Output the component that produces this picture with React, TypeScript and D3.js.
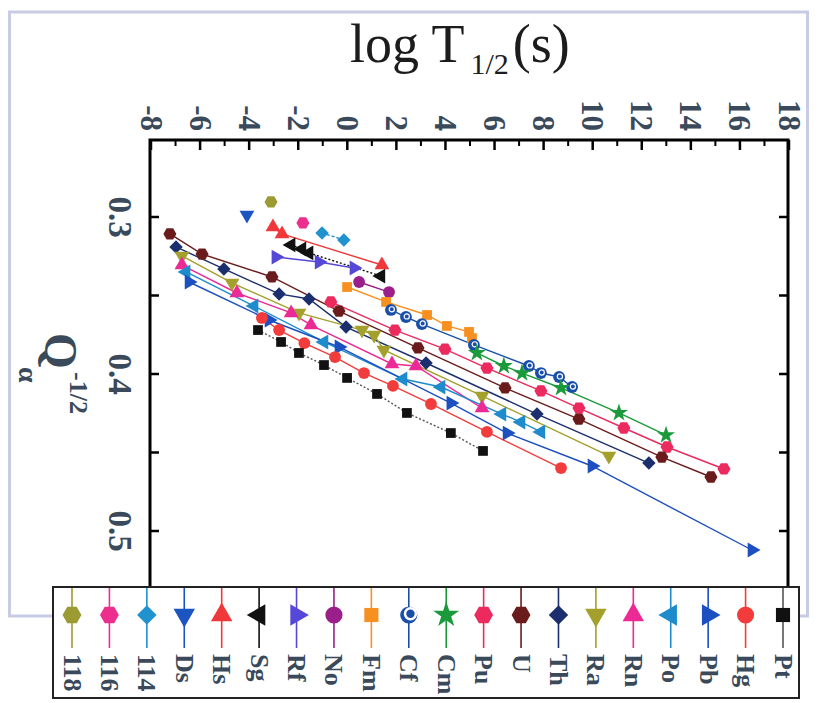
import React from "react";
import * as d3 from "d3";

const W = 832;
const H = 703;

// axis ticks
const xTicks = [-8, -6, -4, -2, 0, 2, 4, 6, 8, 10, 12, 14, 16, 18];
const xMinor = [-7, -5, -3, -1, 1, 3, 5, 7, 9, 11, 13, 15, 17];
const yTicks = [0.3, 0.4, 0.5];
const yMinor = [0.35, 0.45];

// [log T1/2 (s), Qa^-1/2]
const e118 = [[-3.11, 0.2904]];
const e116 = [[-1.81, 0.3038]];
const e114 = [[-1.03, 0.3102], [-0.14, 0.3146]];
const eDs = [[-4.09, 0.2987]];
const eHs = [[-3.03, 0.3064], [-2.66, 0.3108], [1.41, 0.3306]];
const eSg = [[-2.29, 0.3178], [-1.85, 0.3204], [-1.56, 0.3229], [1.37, 0.3376]];
const eRf = [[-2.91, 0.3255], [-1.15, 0.3287], [0.27, 0.3325]];
const eNo = [[0.48, 0.3414], [1.7, 0.3478]];
const eFm = [[-0.01, 0.3446], [1.58, 0.3541], [3.25, 0.3624], [4.06, 0.3694], [4.96, 0.3732], [5.08, 0.3771]];
const eCf = [[1.78, 0.3592], [2.39, 0.3637], [3.04, 0.3682], [5.16, 0.3815], [7.4, 0.3949], [7.89, 0.3994], [8.63, 0.4019], [9.16, 0.4083]];
const eCm = [[5.28, 0.3866], [6.38, 0.3949], [7.12, 0.3994], [8.71, 0.4089], [11.07, 0.4248], [12.99, 0.4389]];
const ePu = [[-0.67, 0.3541], [1.94, 0.372], [3.98, 0.3841], [5.69, 0.3962], [7.89, 0.4108], [9.44, 0.4217], [11.27, 0.4344], [13.03, 0.4465], [15.35, 0.4605]];
const eU = [[-7.23, 0.3108], [-5.92, 0.3236], [-3.07, 0.3382], [-0.34, 0.3599], [2.88, 0.3834], [6.43, 0.4089], [9.44, 0.4287], [12.82, 0.4529], [14.82, 0.4656]];
const eTh = [[-6.98, 0.3191], [-5.03, 0.3331], [-2.78, 0.349], [-1.56, 0.3522], [-0.05, 0.3701], [3.21, 0.393], [7.73, 0.4255], [12.29, 0.4567]];
const eRa = [[-6.74, 0.3248], [-4.7, 0.342], [-1.97, 0.3611], [0.6, 0.372], [1.09, 0.3752], [1.49, 0.3847], [5.49, 0.414], [10.66, 0.4522]];
const eRn = [[-6.74, 0.3306], [-4.5, 0.3484], [-2.29, 0.3611], [-1.48, 0.3688], [1.82, 0.3936], [2.8, 0.3949], [5.49, 0.4217]];
const ePo = [[-6.57, 0.335], [-3.8, 0.3567], [-0.95, 0.3796], [2.27, 0.4032], [3.82, 0.4083], [6.3, 0.4255], [7.08, 0.4306], [7.89, 0.4369]];
const ePb = [[-6.45, 0.3414], [-3.19, 0.3656], [-0.34, 0.3828], [4.22, 0.4185], [6.51, 0.4376], [9.97, 0.4586], [16.49, 0.5121]];
const eHg = [[-3.48, 0.3643], [-2.78, 0.372], [-1.75, 0.3803], [-0.5, 0.3892], [0.68, 0.3994], [1.86, 0.4076], [3.41, 0.4191], [5.69, 0.4369], [8.71, 0.4599]];
const ePt = [[-3.64, 0.372], [-2.7, 0.3796], [-1.97, 0.3866], [-0.95, 0.3943], [-0.01, 0.4025], [1.21, 0.4127], [2.43, 0.4248], [4.22, 0.4376], [5.53, 0.449]];

const series = [
  { name: "118", data: e118, color: "#9c9a32", shape: "hex" },
  { name: "116", data: e116, color: "#ec2f8f", shape: "hex" },
  { name: "114", data: e114, color: "#1f92cf", shape: "diamond", dash: "3,2" },
  { name: "Ds", data: eDs, color: "#1a55c0", shape: "tdown" },
  { name: "Hs", data: eHs, color: "#f0383a", shape: "tup" },
  { name: "Sg", data: eSg, color: "#111111", shape: "tleft", dash: "2,2" },
  { name: "Rf", data: eRf, color: "#5548d8", shape: "tright" },
  { name: "No", data: eNo, color: "#9a1f8a", shape: "circle" },
  { name: "Fm", data: eFm, color: "#f79020", shape: "square" },
  { name: "Cf", data: eCf, color: "#1a4fa8", shape: "sphere" },
  { name: "Cm", data: eCm, color: "#1a9a3a", shape: "star" },
  { name: "Pu", data: ePu, color: "#ec2a5e", shape: "hex" },
  { name: "U", data: eU, color: "#6a1c1c", shape: "hex" },
  { name: "Th", data: eTh, color: "#1b2f6e", shape: "diamond" },
  { name: "Ra", data: eRa, color: "#a3a02c", shape: "tdown" },
  { name: "Rn", data: eRn, color: "#ec2a95", shape: "tup" },
  { name: "Po", data: ePo, color: "#1e8ccc", shape: "tleft" },
  { name: "Pb", data: ePb, color: "#1c4fc0", shape: "tright" },
  { name: "Hg", data: eHg, color: "#f23c3c", shape: "circle" },
  { name: "Pt", data: ePt, color: "#111111", shape: "square", dash: "2,2", line: "#555" },
];

const hexagon = {
  draw(ctx: any, size: number) {
    const r = Math.sqrt((2 * size) / (3 * Math.sqrt(3)));
    for (let i = 0; i < 6; i++) {
      const a = (Math.PI / 3) * i;
      const px = r * Math.cos(a);
      const py = r * Math.sin(a);
      if (i === 0) ctx.moveTo(px, py);
      else ctx.lineTo(px, py);
    }
    ctx.closePath();
  },
};

function Marker({ shape, color, x, y, k }: any) {
  let type: any = d3.symbolCircle;
  let rot = 0;
  let size = 110 * k;
  if (shape === "hex") type = hexagon;
  if (shape === "square") { type = d3.symbolSquare; size = 95 * k; }
  if (shape === "diamond") { type = d3.symbolSquare; rot = 45; size = 90 * k; }
  if (shape === "star") { type = d3.symbolStar; size = 100 * k; }
  if (shape.startsWith("t")) {
    type = d3.symbolTriangle;
    size = 95 * k;
    rot = shape === "tdown" ? 180 : shape === "tleft" ? -90 : shape === "tright" ? 90 : 0;
  }
  const d = d3.symbol().type(type).size(size)() as string;
  return (
    <g transform={`translate(${x},${y}) rotate(${rot})`}>
      <path d={d} fill={color} />
      {shape === "sphere" && (
        <circle cx={0.8 * k} cy={-0.6 * k} r={2.6 * k} fill="none" stroke="#fff" strokeWidth={1.2 * k} />
      )}
    </g>
  );
}

const serif = "'Liberation Serif', 'Times New Roman', serif";
const ink = "#3a4a5a";

export default function App() {
  const left = 150;
  const right = 788;
  const top = 140;
  const bottom = 592;
  const x = d3.scaleLinear().domain([-8, 18]).range([151, 789]);
  const y = d3.scaleLinear().domain([0.3, 0.5]).range([217, 531]);
  const line = d3.line<number[]>().x((d) => x(d[0])).y((d) => y(d[1]));

  const lgX = d3.scalePoint<string>().domain(series.map((s) => s.name)).range([72, 783]);

  return (
    <svg width={W} height={H} style={{ position: "absolute", left: 0, top: 0, background: "#fff" }}>
      {/* scanned page edge */}
      <rect x={9.5} y={12} width={798} height={604} fill="#fff" stroke="#c8cbe4" strokeWidth={3} />

      {/* title */}
      <text x={350} y={62} fontFamily={serif} fontSize={54} fill="#1c1c1c">
        log T
        <tspan fontSize={30} dx={6} dy={12}>1/2</tspan>
        <tspan fontSize={54} dx={4} dy={-12}>(s)</tspan>
      </text>

      {/* frame */}
      <path
        d={`M${left},${bottom}V${top}H${right}V${bottom}`}
        fill="none"
        stroke="#000"
        strokeWidth={3}
      />
      {xTicks.map((t) => (
        <line key={"xt" + t} x1={x(t)} x2={x(t)} y1={top} y2={top + 10} stroke="#000" strokeWidth={2.5} />
      ))}
      {xMinor.map((t) => (
        <line key={"xm" + t} x1={x(t)} x2={x(t)} y1={top} y2={top + 6} stroke="#000" strokeWidth={2} />
      ))}
      {yTicks.concat(yMinor).map((t) => (
        <g key={"yt" + t}>
          <line x1={left} x2={left + 9} y1={y(t)} y2={y(t)} stroke="#000" strokeWidth={2.5} />
          <line x1={right} x2={right - 9} y1={y(t)} y2={y(t)} stroke="#000" strokeWidth={2.5} />
        </g>
      ))}

      {/* top tick labels, rotated like the scan */}
      {xTicks.map((t) => (
        <text
          key={"xl" + t}
          transform={`translate(${x(t)},131) rotate(90)`}
          textAnchor="end"
          dominantBaseline="central"
          fontFamily={serif}
          fontWeight="bold"
          fontSize={31}
          fill={ink}
        >
          {t}
        </text>
      ))}
      {yTicks.map((t) => (
        <text
          key={"yl" + t}
          transform={`translate(120,${y(t)}) rotate(90)`}
          textAnchor="middle"
          dominantBaseline="central"
          fontFamily={serif}
          fontWeight="bold"
          fontSize={33}
          fill={ink}
        >
          {t.toFixed(1)}
        </text>
      ))}

      {/* y title */}
      <text transform="translate(45,333) rotate(90)" fontFamily={serif} fontWeight="bold" fontSize={46} fill={ink}>Q</text>
      <text transform="translate(19,367) rotate(90)" fontFamily={serif} fontWeight="bold" fontSize={28} fill={ink}>α</text>
      <text transform="translate(70,372) rotate(90)" fontFamily={serif} fontWeight="bold" fontSize={26} fill={ink}>-1/2</text>

      {/* series */}
      {series.map((s) => (
        <path
          key={"l" + s.name}
          d={line(s.data) as string}
          fill="none"
          stroke={s.line || s.color}
          strokeWidth={1.4}
          strokeDasharray={s.dash}
        />
      ))}
      {series.map((s) =>
        s.data.map((d, i) => (
          <Marker key={s.name + i} shape={s.shape} color={s.color} x={x(d[0])} y={y(d[1])} k={1} />
        ))
      )}

      {/* legend */}
      <rect x={53} y={587} width={746} height={111} fill="#fff" stroke="#222" strokeWidth={2} />
      {series.map((s) => (
        <g key={"lg" + s.name}>
          <line x1={lgX(s.name)} x2={lgX(s.name)} y1={588} y2={648} stroke={s.line || s.color} strokeWidth={1.6} />
          <Marker shape={s.shape} color={s.color} x={lgX(s.name)} y={615} k={2.1} />
          <text
            transform={`translate(${lgX(s.name)},654) rotate(90)`}
            dominantBaseline="central"
            fontFamily={serif}
            fontWeight="bold"
            fontSize={26}
            fill={ink}
          >
            {s.name}
          </text>
        </g>
      ))}
    </svg>
  );
}
